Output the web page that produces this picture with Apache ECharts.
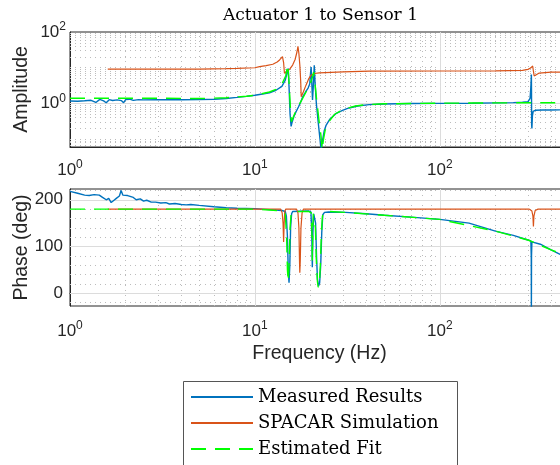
<!DOCTYPE html>
<html><head><meta charset="utf-8">
<script src="https://cdn.jsdelivr.net/npm/echarts@6/dist/echarts.min.js"></script>
<style>html,body{margin:0;padding:0;background:#fff}#c{width:560px;height:465px}</style>
</head><body><div id="c"></div>
<script>
// ---------- data ----------
const measAmpFreq = [1.00,1.10,1.20,1.30,1.38,1.45,1.52,1.57,1.63,1.70,1.80,1.90,1.95,2.00,2.10,2.20,2.35,2.50,3.0,4.0,5.0,6.0,7.0,8.0,9.0,10,11,12,13,14,14.6,15.0,15.15,15.3,15.5,15.7,15.9,16.3,16.7,17.2,17.7,18.1,18.8,19.4,19.8,20.0,20.15,20.35,20.5,20.7,20.95,21.15,21.5,22.0,22.5,22.8,23.2,23.7,24.3,25.5,27.4,30,32.3,36,41.5,50,70,100,150,200,250,280,300,308,311,313,313.5,314,315,317,320,330,360,400,500];
const measAmp     = [1.17,1.16,1.19,1.23,1.07,1.30,1.18,1.05,1.28,1.21,1.26,1.20,1.05,1.29,1.32,1.22,1.28,1.26,1.28,1.27,1.28,1.32,1.38,1.48,1.58,1.70,1.84,2.00,2.35,3.0,4.5,8.0,9.5,3.0,0.5,0.23,0.30,0.45,0.59,0.80,1.10,1.50,2.10,2.70,3.50,7.0,10.5,3.0,1.25,3.0,11.7,4.0,1.0,0.3,0.1,0.05,0.09,0.17,0.25,0.37,0.52,0.65,0.75,0.85,0.93,0.97,1.0,1.01,1.02,1.04,1.06,1.08,1.13,1.4,3.0,6.5,2.0,0.25,0.2,0.45,0.6,0.65,0.66,0.66,0.67];

const simAmpFreq = [1.6,3,5,7,8,10,10.6,11.5,12.5,13.2,13.6,14.1,14.3,14.45,14.55,14.8,15.4,16.0,16.5,16.9,17.1,17.3,17.5,17.7,17.8,18.0,18.3,18.9,19.5,20.1,21,22.3,30,41.5,100,200,280,300,310,318,321,324,330,345,400,500];
const simAmp     = [9.1,9.1,9.2,9.4,9.6,10.0,10.7,11.5,12.5,14.5,16.5,20.4,14,7,6.2,7.0,9,11.9,17,28,40,25,11.9,4,1.55,1.7,2.14,3.26,4.8,6.2,6.9,7.2,7.7,8.0,8.1,8.2,8.4,9.0,9.8,11.2,8,5.9,6.6,7.1,7.5,7.6];

const fitAmpFreq = [1,3,5,7,9,10,12,13,14,14.7,15.05,15.3,15.55,15.75,16.0,16.5,17.2,18.0,19.0,20.0,20.5,20.8,21.1,21.6,22.2,22.8,23.1,23.5,24.0,25.0,27.0,30.0,35,40,50,100,200,300,400,500];
const fitAmp     = [1.40,1.40,1.38,1.45,1.60,1.70,2.10,2.50,3.50,6.0,12.3,4.0,0.8,0.31,0.35,0.55,0.85,1.30,2.20,3.80,5.5,7.6,4.0,1.2,0.35,0.12,0.05,0.10,0.18,0.30,0.50,0.68,0.85,0.93,0.98,1.02,1.04,1.05,1.05,1.05];

const measPhFreq = [1.00,1.10,1.20,1.27,1.35,1.44,1.50,1.57,1.62,1.67,1.73,1.78,1.85,1.89,1.93,1.97,2.05,2.10,2.20,2.28,2.40,2.50,2.60,2.75,2.90,3.10,3.30,3.45,3.70,4.0,4.25,4.5,5,6,7,8,10,12,14,14.6,14.8,15.0,15.15,15.3,15.45,15.6,15.8,16.0,19.5,20.1,20.3,20.45,20.6,20.8,21.0,21.3,21.55,21.8,22.1,22.4,22.7,23.0,23.3,23.8,25,31,40,50,70,100,144,200,250,300,311,312.5,313,313.5,315,350,400,445,500];
const measPh     = [218,214,210,209,211,210,205,200,203,194,199,203,208,220,210,207,209,210,205,200,202,197,199,195,195,193,194,191,192,190,189,190,188,185,183,182,181,179,177,175,165,120,50,23,60,140,170,175,176,174,130,56,130,170,172,150,80,30,16,22,60,130,168,173,174,173,170,167,163,158,150,133,124,114,112,80,-40,80,110,105,93,84,75];

const simPhFreq = [1.6,13.8,14.05,14.2,14.3,14.4,14.5,14.7,16.8,17.1,17.3,17.45,17.5,17.6,17.75,18.0,18.3,305,315,319,321,323,328,340,500];
const simPh     = [180,180,172,150,110,150,175,180,180,172,140,60,44,70,140,172,180,180,176,165,143,165,177,180,180];

const fitPhFreq = [1,5,10,12,14,14.6,14.85,15.0,15.15,15.3,15.5,15.7,16,19.5,20.2,20.35,20.45,20.55,20.7,21.0,21.25,21.5,21.8,22.0,22.3,22.6,22.9,23.2,23.6,25,31,50,100,200,300,400,500];
const fitPh     = [180,180,180,178,176,170,120,50,25,60,140,170,175,175,172,130,70,130,170,170,140,70,25,13,18,60,130,165,173,175,173,167,158,133,114,93,78];

const seriesNames = ['Measured Results','SPACAR Simulation','Estimated Fit'];
const xMinorGrid = [2,3,4,5,6,7,8,9,20,30,40,50,60,70,80,90,200,300,400];
const xMajorGrid = [10,100];
const ampMinorGrid = [0.07,0.08,0.09,0.1,0.2,0.3,0.4,0.5,0.6,0.7,0.8,0.9,2,3,4,5,6,7,8,9,10,20,30,40,50,60,70,80,90];
const ampMajorGrid = [1];
const phMinorGrid = [-20,20,40,60,80,120,140,160,180,220];
const phMajorGrid = [0,100,200];
const phTicks = [0,100,200];

// ---------- chart ----------
const zip = (a,b) => a.map((v,i) => [v, b[i]]);
const AX = '#262626';
const supRich = {
  b: {fontSize: 17, fontFamily: 'Liberation Sans', color: AX, lineHeight: 22},
  s: {fontSize: 12, fontFamily: 'Liberation Sans', color: AX, lineHeight: 12, verticalAlign: 'top'}
};
const powLabel = allowed => v => {
  const l = Math.log10(v), e = Math.round(l);
  if (Math.abs(l - e) > 1e-6 || (allowed && allowed.indexOf(e) < 0)) return '';
  return '{b|10}{s|' + e + '}';
};
const minorStyle = {type: [1, 4], color: '#bcbcbc', width: 1};
const majorStyle = {type: 'solid', color: '#dcdcdc', width: 1};
function gridLines(xMinor, xMajor, yMinor, yMajor) {
  const d = [];
  xMinor.forEach(v => d.push({xAxis: v, lineStyle: minorStyle}));
  yMinor.forEach(v => d.push({yAxis: v, lineStyle: minorStyle}));
  xMajor.forEach(v => d.push({xAxis: v, lineStyle: majorStyle}));
  yMajor.forEach(v => d.push({yAxis: v, lineStyle: majorStyle}));
  return {silent: true, symbol: ['none','none'], label: {show: false}, z: 1, animation: false,
          emphasis: {disabled: true}, data: d};
}
const colors = ['#0072BD', '#D95319', '#00FF00'];
function mk(name, idx, gi, data, extra) {
  const s = {
    name, type: 'line', xAxisIndex: gi, yAxisIndex: gi, data,
    showSymbol: false, symbol: 'none', smooth: false, animation: false,
    lineStyle: {color: colors[idx], width: idx === 1 ? 1.2 : 1.4, type: idx === 2 ? [15, 9] : 'solid'},
    itemStyle: {color: colors[idx]}, z: 2 + idx, emphasis: {disabled: true}
  };
  return Object.assign(s, extra || {});
}
const xBase = (gi, margin) => ({
  type: 'log', logBase: 10, min: 1, max: 500, gridIndex: gi,
  axisLine: {show: true, lineStyle: {color: AX}},
  axisTick: {show: true, inside: true, length: 5, lineStyle: {color: AX}},
  splitLine: {show: false},
  axisLabel: {formatter: powLabel(null), rich: supRich, margin: margin}
});
const option = {
  backgroundColor: '#fff',
  animation: false,
  title: {text: 'Actuator 1 to Sensor 1', left: 218, top: 2,
          textStyle: {fontFamily: 'DejaVu Serif', fontSize: 17, fontWeight: 'normal', color: '#000'}},
  legend: {
    data: seriesNames, orient: 'vertical', left: 183, top: 381,
    itemWidth: 62, itemHeight: 14, itemGap: 6, selectedMode: false,
    padding: [6, 0, 0, 7],
    itemStyle: {opacity: 0},
    textStyle: {fontFamily: 'DejaVu Serif', fontSize: 18, color: '#000', lineHeight: 20}
  },
  graphic: [{type: 'rect', left: 183, top: 381, z: -1, silent: true,
             shape: {width: 274, height: 110}, style: {fill: '#fff', stroke: '#555', lineWidth: 1}}],
  grid: [
    {left: 70, top: 32, width: 499, height: 115, show: true, borderColor: AX, borderWidth: 1,
     backgroundColor: 'transparent', outerBoundsMode: 'none', containLabel: false},
    {left: 70, top: 189, width: 499, height: 117, show: true, borderColor: AX, borderWidth: 1,
     backgroundColor: 'transparent', outerBoundsMode: 'none', containLabel: false}
  ],
  xAxis: [
    xBase(0, 12),
    Object.assign(xBase(1, 14), {name: 'Frequency (Hz)', nameLocation: 'middle', nameGap: 38, nameMoveOverlap: false,
      nameTextStyle: {fontFamily: 'Liberation Sans', fontSize: 19.5, color: AX}}),
    Object.assign(xBase(0, 10), {position: 'top', axisLabel: {show: false}, axisLine: {show: false}}),
    Object.assign(xBase(1, 10), {position: 'top', axisLabel: {show: false}, axisLine: {show: false}})
  ],
  yAxis: [
    {type: 'log', logBase: 10, min: 0.0607, max: 100, gridIndex: 0,
     name: 'Amplitude', nameLocation: 'middle', nameGap: 38, nameRotate: 90, nameMoveOverlap: false,
     nameTextStyle: {fontFamily: 'Liberation Sans', fontSize: 19.5, color: AX},
     axisLine: {show: true, lineStyle: {color: AX}}, axisTick: {show: false}, splitLine: {show: false},
     axisLabel: {formatter: powLabel([0, 2]), rich: supRich, margin: 4}},
    {type: 'value', min: -27, max: 223, gridIndex: 1,
     name: 'Phase (deg)', nameLocation: 'middle', nameGap: 38, nameRotate: 90, nameMoveOverlap: false,
     nameTextStyle: {fontFamily: 'Liberation Sans', fontSize: 19.5, color: AX},
     axisLine: {show: true, lineStyle: {color: AX}},
     axisTick: {show: true, inside: true, length: 5, customValues: phTicks, lineStyle: {color: AX}},
     splitLine: {show: false},
     axisLabel: {customValues: phTicks, fontFamily: 'Liberation Sans', fontSize: 17, color: AX, margin: 7}}
  ],
  series: [
    mk(seriesNames[0], 0, 0, zip(measAmpFreq, measAmp), {markLine: gridLines(xMinorGrid, xMajorGrid, ampMinorGrid, ampMajorGrid)}),
    mk(seriesNames[1], 1, 0, zip(simAmpFreq, simAmp)),
    mk(seriesNames[2], 2, 0, zip(fitAmpFreq, fitAmp)),
    mk(seriesNames[0], 0, 1, zip(measPhFreq, measPh), {markLine: gridLines(xMinorGrid, xMajorGrid, phMinorGrid, phMajorGrid)}),
    mk(seriesNames[1], 1, 1, zip(simPhFreq, simPh)),
    mk(seriesNames[2], 2, 1, zip(fitPhFreq, fitPh))
  ]
};
const chart = echarts.init(document.getElementById('c'), null, {renderer: 'canvas'});
chart.setOption(option);
</script>
</body></html>
